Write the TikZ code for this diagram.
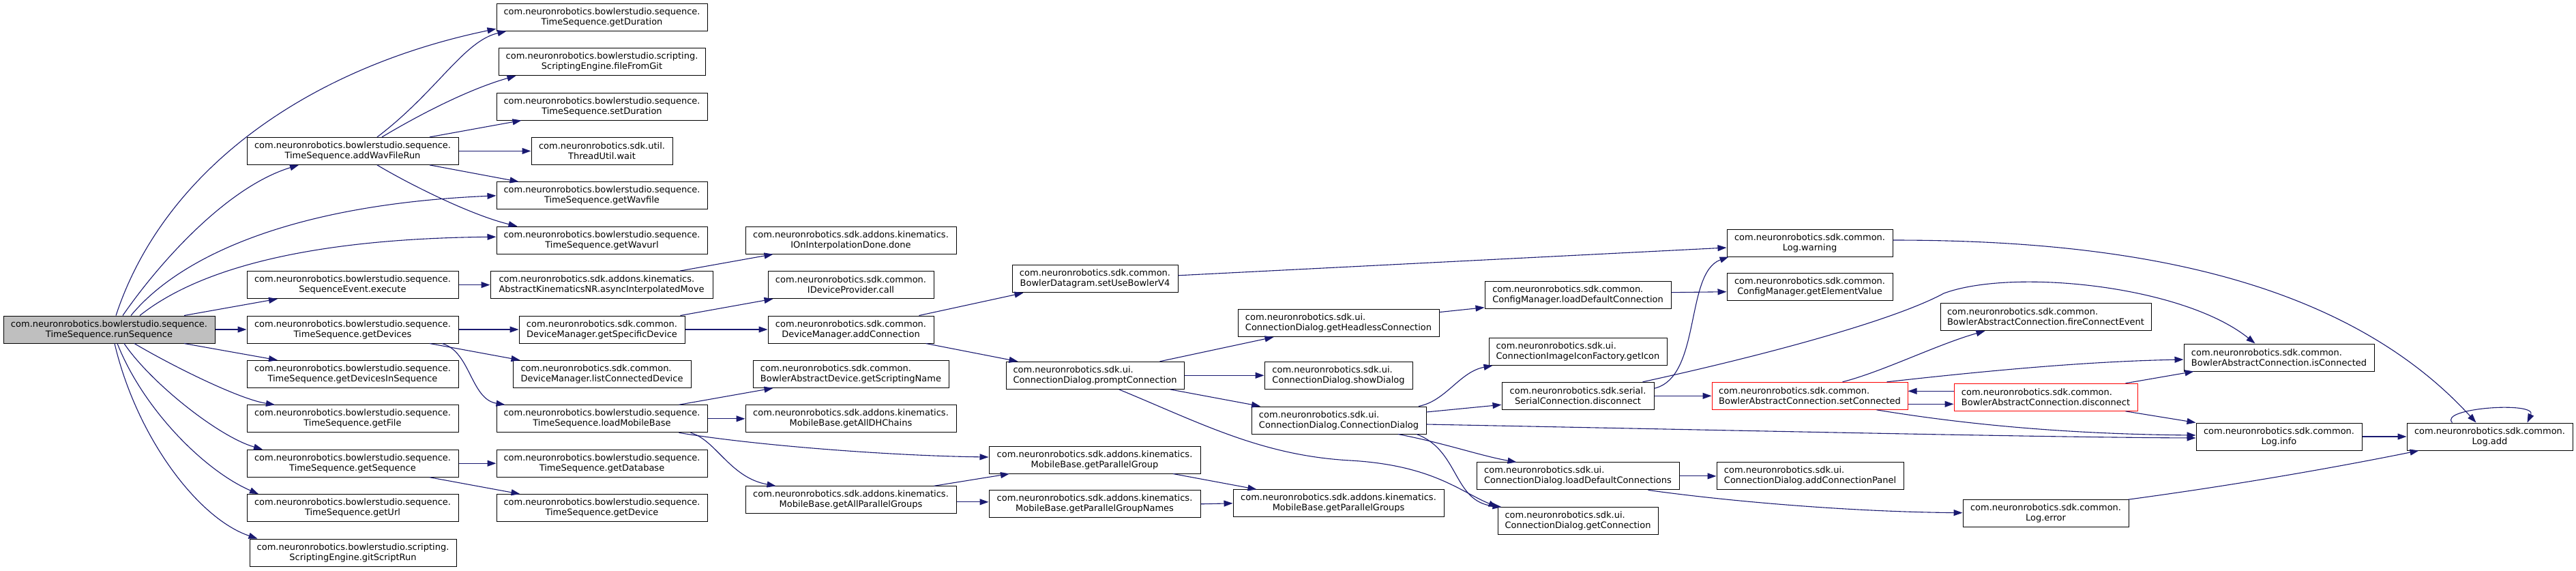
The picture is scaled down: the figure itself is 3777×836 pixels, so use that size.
\documentclass[tikz,border=0pt]{standalone}
\usepackage{fontspec}
\setmainfont{DejaVu Sans}
\usetikzlibrary{arrows.meta}
\definecolor{edgecol}{HTML}{191970}
\definecolor{rootgray}{HTML}{BFBFBF}
\newsavebox{\cglabA}\newsavebox{\cglabB}\newlength{\cglabW}
\newcommand{\cglab}[2]{\sbox{\cglabA}{#1}\sbox{\cglabB}{#2}%
  \setlength{\cglabW}{\wd\cglabA}\ifdim\wd\cglabB>\cglabW\setlength{\cglabW}{\wd\cglabB}\fi
  \vbox{\hbox to\cglabW{\usebox{\cglabA}\hfil}\hbox to\cglabW{\hfil\usebox{\cglabB}\hfil}}}
\tikzset{
  nd/.style={draw=black, line width=1pt, fill=white, rectangle, inner sep=0pt,
    minimum height=40pt, font=\fontsize{13}{15}\selectfont},
  rootnd/.style={nd, fill=rootgray},
  trunc/.style={nd, draw=red},
  cgedge/.style={draw=edgecol, line width=1.1pt, -{Triangle[length=13pt,width=9pt]}}
}
\begin{document}
\begin{tikzpicture}[x=1pt,y=-1pt]
\useasboundingbox (0,0) rectangle (3777,836);
% column 1
\node[rootnd, minimum width=310pt] (root) at (160,483) {\cglab{com.neuronrobotics.bowlerstudio.sequence.}{TimeSequence.runSequence}};
% column 2
\node[nd, minimum width=310pt] (addWav) at (517,221.4) {\cglab{com.neuronrobotics.bowlerstudio.sequence.}{TimeSequence.addWavFileRun}};
\node[nd, minimum width=310pt] (seqEvent) at (517,417.6) {\cglab{com.neuronrobotics.bowlerstudio.sequence.}{SequenceEvent.execute}};
\node[nd, minimum width=310pt] (getDevices) at (517,483) {\cglab{com.neuronrobotics.bowlerstudio.sequence.}{TimeSequence.getDevices}};
\node[nd, minimum width=310pt] (getDevicesInSeq) at (517,548.4) {\cglab{com.neuronrobotics.bowlerstudio.sequence.}{TimeSequence.getDevicesInSequence}};
\node[nd, minimum width=310pt] (getFile) at (517,613.8) {\cglab{com.neuronrobotics.bowlerstudio.sequence.}{TimeSequence.getFile}};
\node[nd, minimum width=310pt] (getSequence) at (517,679.2) {\cglab{com.neuronrobotics.bowlerstudio.sequence.}{TimeSequence.getSequence}};
\node[nd, minimum width=310pt] (getUrl) at (517,744.6) {\cglab{com.neuronrobotics.bowlerstudio.sequence.}{TimeSequence.getUrl}};
\node[nd, minimum width=303pt] (gitScriptRun) at (517.5,810) {\cglab{com.neuronrobotics.bowlerstudio.scripting.}{ScriptingEngine.gitScriptRun}};
% column 3
\node[nd, minimum width=309pt] (getDuration) at (882.5,25.2) {\cglab{com.neuronrobotics.bowlerstudio.sequence.}{TimeSequence.getDuration}};
\node[nd, minimum width=303pt] (fileFromGit) at (882.5,90.6) {\cglab{com.neuronrobotics.bowlerstudio.scripting.}{ScriptingEngine.fileFromGit}};
\node[nd, minimum width=309pt] (setDuration) at (882.5,156) {\cglab{com.neuronrobotics.bowlerstudio.sequence.}{TimeSequence.setDuration}};
\node[nd, minimum width=207pt] (wait) at (882.5,221.4) {\cglab{com.neuronrobotics.sdk.util.}{ThreadUtil.wait}};
\node[nd, minimum width=309pt] (getWavfile) at (882.5,286.8) {\cglab{com.neuronrobotics.bowlerstudio.sequence.}{TimeSequence.getWavfile}};
\node[nd, minimum width=309pt] (getWavurl) at (882.5,352.2) {\cglab{com.neuronrobotics.bowlerstudio.sequence.}{TimeSequence.getWavurl}};
\node[nd, minimum width=326pt] (async) at (882,417.6) {\cglab{com.neuronrobotics.sdk.addons.kinematics.}{AbstractKinematicsNR.asyncInterpolatedMove}};
\node[nd, minimum width=243pt] (getSpecificDevice) at (882.5,483) {\cglab{com.neuronrobotics.sdk.common.}{DeviceManager.getSpecificDevice}};
\node[nd, minimum width=261pt] (listConnected) at (882.5,548.4) {\cglab{com.neuronrobotics.sdk.common.}{DeviceManager.listConnectedDevice}};
\node[nd, minimum width=309pt] (loadMobileBase) at (882.5,613.8) {\cglab{com.neuronrobotics.bowlerstudio.sequence.}{TimeSequence.loadMobileBase}};
\node[nd, minimum width=309pt] (getDatabase) at (882.5,679.2) {\cglab{com.neuronrobotics.bowlerstudio.sequence.}{TimeSequence.getDatabase}};
\node[nd, minimum width=309pt] (getDevice) at (882.5,744.6) {\cglab{com.neuronrobotics.bowlerstudio.sequence.}{TimeSequence.getDevice}};
% column 4
\node[nd, minimum width=309pt] (done) at (1247.5,352.2) {\cglab{com.neuronrobotics.sdk.addons.kinematics.}{IOnInterpolationDone.done}};
\node[nd, minimum width=243pt] (call) at (1247.5,417.6) {\cglab{com.neuronrobotics.sdk.common.}{IDeviceProvider.call}};
\node[nd, minimum width=243pt] (addConnection) at (1247.5,483) {\cglab{com.neuronrobotics.sdk.common.}{DeviceManager.addConnection}};
\node[nd, minimum width=287pt] (getScriptingName) at (1247.5,548.4) {\cglab{com.neuronrobotics.sdk.common.}{BowlerAbstractDevice.getScriptingName}};
\node[nd, minimum width=309pt] (getAllDHChains) at (1247.5,613.8) {\cglab{com.neuronrobotics.sdk.addons.kinematics.}{MobileBase.getAllDHChains}};
\node[nd, minimum width=309pt] (getAllParallelGroups) at (1247.5,732.8) {\cglab{com.neuronrobotics.sdk.addons.kinematics.}{MobileBase.getAllParallelGroups}};
% column 5
\node[nd, minimum width=243pt] (setUseBowlerV4) at (1605.5,408.8) {\cglab{com.neuronrobotics.sdk.common.}{BowlerDatagram.setUseBowlerV4}};
\node[nd, minimum width=261pt] (promptConnection) at (1605.5,550.3) {\cglab{com.neuronrobotics.sdk.ui.}{ConnectionDialog.promptConnection}};
\node[nd, minimum width=310pt] (getParallelGroup) at (1605,674) {\cglab{com.neuronrobotics.sdk.addons.kinematics.}{MobileBase.getParallelGroup}};
\node[nd, minimum width=310pt] (getParallelGroupNames) at (1605,738.8) {\cglab{com.neuronrobotics.sdk.addons.kinematics.}{MobileBase.getParallelGroupNames}};
% column 6
\node[nd, minimum width=295pt] (getHeadless) at (1962.5,473.6) {\cglab{com.neuronrobotics.sdk.ui.}{ConnectionDialog.getHeadlessConnection}};
\node[nd, minimum width=217pt] (showDialog) at (1962.5,550.3) {\cglab{com.neuronrobotics.sdk.ui.}{ConnectionDialog.showDialog}};
\node[nd, minimum width=256pt] (cdCtor) at (1963,616) {\cglab{com.neuronrobotics.sdk.ui.}{ConnectionDialog.ConnectionDialog}};
\node[nd, minimum width=309pt] (getParallelGroups) at (1962.5,737.8) {\cglab{com.neuronrobotics.sdk.addons.kinematics.}{MobileBase.getParallelGroups}};
% column 7
\node[nd, minimum width=273pt] (loadDefConn) at (2313.5,432.7) {\cglab{com.neuronrobotics.sdk.common.}{ConfigManager.loadDefaultConnection}};
\node[nd, minimum width=261pt] (getIcon) at (2313.5,515.4) {\cglab{com.neuronrobotics.sdk.ui.}{ConnectionImageIconFactory.getIcon}};
\node[nd, minimum width=223pt] (serialDisc) at (2313.5,580.3) {\cglab{com.neuronrobotics.sdk.serial.}{SerialConnection.disconnect}};
\node[nd, minimum width=297pt] (loadDefConns) at (2313.5,697.9) {\cglab{com.neuronrobotics.sdk.ui.}{ConnectionDialog.loadDefaultConnections}};
\node[nd, minimum width=235pt] (getConnection) at (2313.5,763.7) {\cglab{com.neuronrobotics.sdk.ui.}{ConnectionDialog.getConnection}};
% column 8
\node[nd, minimum width=243pt] (warning) at (2653.5,356) {\cglab{com.neuronrobotics.sdk.common.}{Log.warning}};
\node[nd, minimum width=243pt] (getElementValue) at (2653.5,420.7) {\cglab{com.neuronrobotics.sdk.common.}{ConfigManager.getElementValue}};
\node[trunc, minimum width=287pt] (setConnected) at (2653.5,580.3) {\cglab{com.neuronrobotics.sdk.common.}{BowlerAbstractConnection.setConnected}};
\node[nd, minimum width=274pt] (addConnPanel) at (2654,697.9) {\cglab{com.neuronrobotics.sdk.ui.}{ConnectionDialog.addConnectionPanel}};
% column 9
\node[nd, minimum width=309pt] (fireConnect) at (2999.5,464.6) {\cglab{com.neuronrobotics.sdk.common.}{BowlerAbstractConnection.fireConnectEvent}};
\node[trunc, minimum width=269pt] (bacDisc) at (2999.5,582.3) {\cglab{com.neuronrobotics.sdk.common.}{BowlerAbstractConnection.disconnect}};
\node[nd, minimum width=243pt] (error) at (2999.5,752.7) {\cglab{com.neuronrobotics.sdk.common.}{Log.error}};
% column 10
\node[nd, minimum width=279pt] (isConnected) at (3341.5,524) {\cglab{com.neuronrobotics.sdk.common.}{BowlerAbstractConnection.isConnected}};
\node[nd, minimum width=243pt] (info) at (3341.5,640) {\cglab{com.neuronrobotics.sdk.common.}{Log.info}};
% column 11
\node[nd, minimum width=243pt] (add) at (3650.5,640) {\cglab{com.neuronrobotics.sdk.common.}{Log.add}};

% edges from root
\draw[cgedge] ([xshift=10pt]root.north) .. controls (240,250) and (450,100) .. ([yshift=-17pt]getDuration.west);
\draw[cgedge] ([xshift=20pt]root.north) .. controls (230,390) and (330,275) .. ([xshift=-79pt]addWav.south);
\draw[cgedge] ([xshift=32pt]root.north) .. controls (260,380) and (420,300) .. (getWavfile.west);
\draw[cgedge] ([xshift=45pt]root.north) .. controls (290,395) and (450,350) .. ([yshift=5pt]getWavurl.west);
\draw[cgedge] ([xshift=110pt]root.north) -- ([xshift=-110pt]seqEvent.south);
\draw[cgedge] (root.east) -- (getDevices.west);
\draw[cgedge] ([xshift=110pt]root.south) -- ([xshift=-110pt]getDevicesInSeq.north);
\draw[cgedge] ([xshift=37pt]root.south) .. controls (250,535) and (350,585) .. ([xshift=-114pt]getFile.north);
\draw[cgedge] ([xshift=22pt]root.south) .. controls (220,560) and (320,640) .. ([xshift=-132pt]getSequence.north);
\draw[cgedge] ([xshift=12pt]root.south) .. controls (210,600) and (300,690) .. ([xshift=-138pt]getUrl.north);
\draw[cgedge] ([xshift=8pt]root.south) .. controls (200,640) and (290,760) .. ([xshift=-140pt]gitScriptRun.north);
% addWavFileRun
\draw[cgedge] ([xshift=36pt]addWav.north) .. controls (640,135) and (680,60) .. ([xshift=-140pt]getDuration.south);
\draw[cgedge] ([xshift=43pt]addWav.north) .. controls (620,165) and (690,130) .. ([xshift=-126pt]fileFromGit.south);
\draw[cgedge] ([xshift=113pt]addWav.north) -- ([xshift=-118pt]setDuration.south);
\draw[cgedge] (addWav.east) -- (wait.west);
\draw[cgedge] ([xshift=113pt]addWav.south) -- ([xshift=-122pt]getWavfile.north);
\draw[cgedge] ([xshift=36pt]addWav.south) .. controls (600,270) and (690,315) .. ([xshift=-124pt]getWavurl.north);
% column 2 -> 3
\draw[cgedge] (seqEvent.east) -- (async.west);
\draw[cgedge] (getDevices.east) -- (getSpecificDevice.west);
\draw[cgedge] ([xshift=113pt]getDevices.south) -- ([xshift=-120pt]listConnected.north);
\draw[cgedge] ([xshift=131pt]getDevices.south) .. controls (690,515) and (690,585) .. ([xshift=-142pt]loadMobileBase.north);
\draw[cgedge] (getSequence.east) -- (getDatabase.west);
\draw[cgedge] ([xshift=113pt]getSequence.south) -- ([xshift=-120pt]getDevice.north);
% column 3 -> 4/5
\draw[cgedge] ([xshift=115pt]async.north) -- ([xshift=-114pt]done.south);
\draw[cgedge] ([xshift=115pt]getSpecificDevice.north) -- ([xshift=-114pt]call.south);
\draw[cgedge] (getSpecificDevice.east) -- (addConnection.west);
\draw[cgedge] ([xshift=113pt]loadMobileBase.north) -- ([xshift=-114pt]getScriptingName.south);
\draw[cgedge] (loadMobileBase.east) -- (getAllDHChains.west);
\draw[cgedge] ([xshift=113pt]loadMobileBase.south) .. controls (1100,652) and (1300,668) .. ([yshift=4pt]getParallelGroup.west);
\draw[cgedge] ([xshift=130pt]loadMobileBase.south) .. controls (1050,645) and (1070,700) .. ([xshift=-110pt]getAllParallelGroups.north);
% column 4 -> 5
\draw[cgedge] ([xshift=100pt]addConnection.north) -- ([xshift=-105pt]setUseBowlerV4.south);
\draw[cgedge] ([xshift=110pt]addConnection.south) -- ([xshift=-113pt]promptConnection.north);
\draw[cgedge] ([xshift=122pt]getAllParallelGroups.north) -- ([xshift=-125pt]getParallelGroup.south);
\draw[cgedge] ([yshift=-3pt]getAllParallelGroups.east) -- ([yshift=3pt]getParallelGroupNames.west);
% column 5 -> 6+
\draw[cgedge] ([yshift=5pt]setUseBowlerV4.east) -- ([yshift=-7pt]warning.west);
\draw[cgedge] ([xshift=95pt]promptConnection.north) -- ([xshift=-95pt]getHeadless.south);
\draw[cgedge] (promptConnection.east) -- (showDialog.west);
\draw[cgedge] ([xshift=110pt]promptConnection.south) -- ([xshift=-115pt]cdCtor.north);
\draw[cgedge] ([xshift=35pt]promptConnection.south) .. controls (1760,620) and (1850,668) .. (1980,675) .. controls (2100,682) and (2140,720) .. ([xshift=-118pt]getConnection.north);
\draw[cgedge] ([xshift=115pt]getParallelGroup.south) -- ([xshift=-120pt]getParallelGroups.north);
\draw[cgedge] (getParallelGroupNames.east) -- (getParallelGroups.west);
% column 6 -> 7+
\draw[cgedge] ([yshift=16pt]getHeadless.east) -- ([yshift=-18pt]loadDefConn.west);
\draw[cgedge] ([xshift=117pt]cdCtor.north) .. controls (2120,588) and (2140,545) .. ([xshift=-125pt]getIcon.south);
\draw[cgedge] ([yshift=12pt]cdCtor.east) -- ([yshift=-13pt]serialDisc.west);
\draw[cgedge] ([yshift=-6pt]cdCtor.east) .. controls (2600,632) and (3000,641) .. ([yshift=-2pt]info.west);
\draw[cgedge] ([xshift=87pt]cdCtor.south) .. controls (2120,650) and (2170,668) .. ([xshift=-90pt]loadDefConns.north);
\draw[cgedge] ([xshift=114pt]cdCtor.south) .. controls (2140,660) and (2130,735) .. ([xshift=-112pt]getConnection.north);
% column 7 -> 8+
\draw[cgedge] ([yshift=4pt]loadDefConn.east) -- ([yshift=-7pt]getElementValue.west);
\draw[cgedge] ([yshift=11pt]serialDisc.east) .. controls (2495,553) and (2470,400) .. ([xshift=-119pt]warning.south);
\draw[cgedge] (serialDisc.east) -- (setConnected.west);
\draw[cgedge] ([xshift=95pt]serialDisc.north) .. controls (2600,518) and (2780,468) .. (2850,430) .. controls (2950,393) and (3200,418) .. ([xshift=-35pt]isConnected.north);
\draw[cgedge] (loadDefConns.east) -- (addConnPanel.west);
\draw[cgedge] ([xshift=103pt]loadDefConns.south) .. controls (2520,733) and (2700,750) .. ([yshift=1pt]error.west);
% setConnected / disconnect
\draw[cgedge] ([xshift=48pt]setConnected.north) .. controls (2760,545) and (2840,505) .. ([xshift=-89pt]fireConnect.south);
\draw[cgedge] ([xshift=113pt]setConnected.north) .. controls (2900,545) and (3050,530) .. ([yshift=-3pt]isConnected.west);
\draw[cgedge] ([yshift=-12pt]setConnected.east) -- ([yshift=-10pt]bacDisc.west);
\draw[cgedge] ([yshift=9pt]bacDisc.west) -- ([yshift=7pt]setConnected.east);
\draw[cgedge] ([xshift=98pt]setConnected.south) .. controls (2850,617) and (3000,636) .. ([yshift=2pt]info.west);
\draw[cgedge] ([xshift=117pt]bacDisc.north) -- ([xshift=-125pt]isConnected.south);
\draw[cgedge] ([xshift=117pt]bacDisc.south) -- ([xshift=-122pt]info.north);
% Log
\draw[cgedge] ([yshift=4pt]warning.east) .. controls (3100,352) and (3430,400) .. ([xshift=-20pt]add.north);
\draw[cgedge] (info.east) -- (add.west);
\draw[cgedge] ([xshift=121pt]error.north) .. controls (3300,708) and (3450,680) .. ([xshift=-104pt]add.south);
\draw[cgedge] ([xshift=-55pt]add.north) .. controls (3575,598) and (3720,588) .. ([xshift=55pt]add.north);
\end{tikzpicture}
\end{document}
